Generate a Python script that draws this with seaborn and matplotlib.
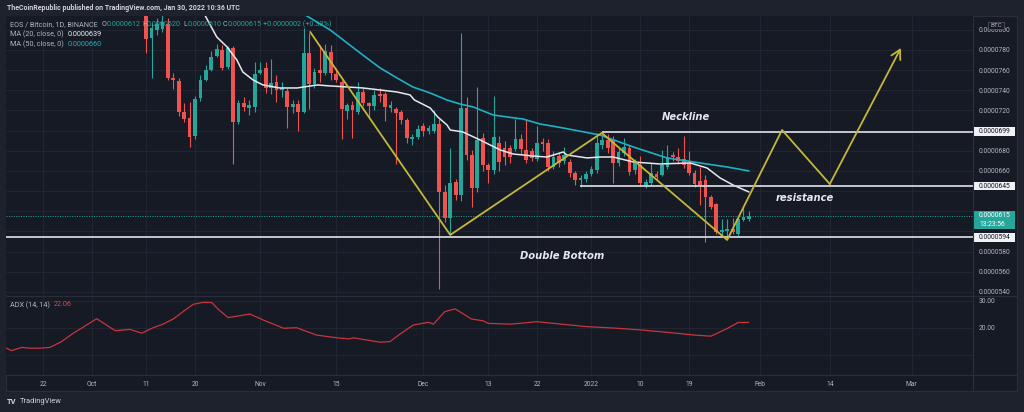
import numpy as np
import pandas as pd
import matplotlib
matplotlib.use("Agg")
import matplotlib.pyplot as plt
import matplotlib.transforms as mtransforms
from matplotlib.patches import Rectangle
from matplotlib.lines import Line2D
import seaborn as sns

# ---------------- data (prices in units of 1e-7 BTC, x in days since 2021-09-22) ----------------
BASE_DATE = "2021-09-22"
FIRST_CANDLE = "2021-10-11"

candle_open = [815, 792, 800, 801, 806, 752, 749, 718, 713, 695, 732, 750, 760, 774, 780, 763,
               782, 709, 727, 722, 723, 757, 762, 742, 748, 740, 739, 723, 726, 718, 777, 746,
               760, 757, 778, 756, 748, 719, 725, 718, 738, 727, 724, 736, 736, 722, 721, 718,
               711, 692, 694, 705, 700, 700, 707, 639, 613, 649, 636, 722, 676, 643, 693, 666,
               661, 688, 683, 683, 682, 692, 681, 680, 672, 689, 688, 664, 675, 670, 669, 658,
               651, 652, 657, 661, 686, 691, 691, 668, 678, 683, 661, 666, 646, 648, 657, 656,
               664, 676, 674, 672, 668, 658, 650, 651, 634, 627, 599, 600, 602, 597, 611, 612]
candle_high = [820, 807, 812, 815, 812, 757, 752, 727, 728, 734, 755, 765, 779, 786, 785, 784,
               784, 730, 733, 730, 768, 768, 768, 771, 755, 748, 742, 730, 730, 802, 797, 762,
               785, 786, 785, 762, 750, 727, 729, 748, 742, 728, 740, 742, 738, 729, 723, 720,
               713, 697, 706, 708, 706, 720, 712, 646, 683, 652, 797, 733, 681, 743, 698, 668,
               734, 695, 690, 686, 712, 697, 711, 683, 705, 693, 692, 680, 678, 684, 672, 660,
               656, 660, 665, 698, 698, 697, 695, 683, 693, 686, 672, 675, 652, 668, 660, 681,
               686, 679, 683, 695, 680, 661, 664, 656, 636, 628, 612, 612, 613, 614, 623, 620]
candle_low = [777, 752, 795, 798, 750, 741, 714, 709, 684, 692, 729, 749, 759, 773, 760, 761,
              667, 707, 719, 715, 718, 756, 737, 736, 728, 733, 703, 717, 700, 717, 721, 742,
              748, 755, 750, 748, 692, 712, 693, 716, 724, 713, 720, 728, 710, 718, 667, 707,
              688, 686, 692, 695, 697, 698, 543, 609, 596, 631, 630, 671, 624, 639, 660, 648,
              657, 660, 666, 668, 680, 677, 668, 670, 670, 680, 660, 662, 664, 667, 654, 646,
              644, 649, 655, 658, 682, 678, 648, 665, 675, 656, 657, 645, 643, 646, 651, 655,
              662, 670, 667, 663, 656, 644, 626, 589, 622, 597, 596, 595, 597, 595, 610, 610]
candle_close = [791, 802, 806, 808, 752, 750, 718, 712, 694, 731, 750, 760, 773, 781, 762, 782,
                709, 727, 723, 725, 756, 760, 742, 747, 740, 742, 723, 726, 718, 777, 746, 758,
                757, 779, 757, 750, 721, 725, 720, 738, 727, 724, 735, 734, 723, 725, 717, 711,
                693, 694, 702, 700, 703, 707, 639, 613, 648, 636, 722, 676, 643, 691, 666, 661,
                694, 669, 674, 674, 692, 682, 671, 673, 688, 687, 664, 674, 668, 676, 658, 651,
                653, 657, 662, 688, 691, 683, 668, 679, 684, 659, 668, 648, 649, 658, 654, 666,
                674, 674, 670, 666, 658, 647, 646, 634, 624, 599, 601, 602, 599, 612, 614, 615]

ma20_day = [29.8, 32.0, 33.9, 35.7, 36.8, 38.7, 40.5, 43.6, 46.8, 50.5, 52.9, 56.0, 58.9, 62.1,
            65.2, 67.6, 68.4, 71.3, 72.7, 74.4, 75.0, 77.3, 80.5, 84.2, 86.6, 90.2, 92.8, 95.8,
            96.5, 100.2, 102.6, 105.0, 108.7, 113.6, 119.2, 122.3, 124.7, 127.1, 130.0]
ma20_value = [814.7, 792.9, 783.0, 770.1, 758.2, 750.2, 745.3, 742.3, 742.3, 745.3, 744.3, 743.3,
              742.3, 740.3, 738.3, 735.4, 730.4, 722.5, 713.5, 705.6, 700.6, 698.7, 690.7, 680.8,
              676.8, 674.8, 673.8, 678.8, 675.8, 672.9, 673.8, 673.8, 668.9, 666.9, 667.9, 662.9,
              653.0, 646.0, 639.1]

ma50_day = [48.3, 52.9, 58.9, 62.1, 65.2, 68.1, 71.3, 74.4, 76.8, 79.2, 82.9, 85.5, 88.4, 91.5,
            95.8, 102.6, 108.7, 114.9, 121.0, 126.0, 130.0]
ma50_value = [814.7, 799.8, 775.0, 762.1, 752.2, 743.3, 737.3, 730.4, 726.4, 723.5, 715.5, 713.5,
              711.5, 706.6, 702.6, 695.6, 683.8, 672.9, 667.9, 663.9, 660.0]

adx_day = [-6.7, -5.8, -3.9, -2.4, -0.6, 1.3, 3.4, 5.6, 7.7, 9.9, 13.3, 16.0, 18.2, 20.3, 22.2,
           24.0, 25.8, 27.7, 29.5, 31.1, 32.3, 34.1, 38.1, 40.6, 44.3, 46.7, 50.4, 54.1, 56.5,
           57.1, 59.6, 62.1, 63.9, 65.7, 68.2, 71.0, 71.9, 74.0, 75.9, 78.9, 81.1, 82.0, 86.0,
           87.8, 91.0, 95.0, 100.0, 105.0, 110.0, 115.0, 120.0, 123.0, 126.0, 128.0, 130.0]
adx_value = [12.6, 11.7, 12.9, 12.6, 12.6, 12.9, 15.0, 18.1, 20.7, 23.4, 19.0, 19.5, 18.1, 20.1,
             21.5, 23.3, 26.0, 28.7, 29.4, 29.3, 26.8, 23.8, 25.1, 22.9, 19.9, 20.1, 17.4, 16.4,
             16.0, 16.4, 15.6, 14.8, 15.0, 17.7, 21.1, 22.1, 21.4, 26.0, 27.0, 23.3, 22.6, 21.7,
             21.4, 21.7, 22.3, 21.5, 20.5, 20.0, 19.3, 18.4, 17.4, 17.0, 19.8, 22.0, 22.06]

zigzag_day = [49.2, 75.0, 102.9, 126.0, 136.1, 144.9]
zigzag_price = [797.9, 596.5, 697.7, 591.5, 700.6, 647.0]
arrow_tip = (158.0, 782.0)

neckline, resistance, support, last_price = 699, 645, 594, 615
neckline_start, resistance_start = 102.9, 98.9

tick_dates = ["2021-09-22", "2021-10-01", "2021-10-11", "2021-10-20", "2021-11-01", "2021-11-15",
              "2021-12-01", "2021-12-13", "2021-12-22", "2022-01-01", "2022-01-10", "2022-01-19",
              "2022-02-01", "2022-02-14", "2022-03-01"]
tick_labels = ["22", "Oct", "11", "20", "Nov", "15", "Dec", "13", "22", "2022", "10", "19",
               "Feb", "14", "Mar"]
price_ticks = list(range(540, 801, 20))
hidden_price_labels = [600, 620, 640, 700]

# ---------------- style ----------------
sns.set_theme(style="dark")
plt.rcParams['font.family'] = ['Roboto', 'DejaVu Sans']

BG = "#161a25"
BAND = "#1e222d"
GRID = "#222632"
BORDER = "#2a2e39"
TXT = "#b2b5be"
UP = "#26a69a"
DOWN = "#ef5350"
MA20C = "#e6e8ee"
MA50C = "#1fb0c6"
YEL = "#c4b73a"
LVL = "#d1d4dc"
FS = 4.9
LFS = 5.2

W, H = 1024, 412
fig = plt.figure(figsize=(W / 100, H / 100), dpi=100, facecolor=BAND)


def fx(px):
    return px / W


def fy(py):
    return 1 - py / H


bgrect = Rectangle((fx(6), fy(391)), fx(1017) - fx(6), fy(16) - fy(391),
                   transform=fig.transFigure, fc=BG, ec=BORDER, lw=0.8, zorder=-10)
fig.patches.append(bgrect)

ax = fig.add_axes([fx(6), fy(295), fx(973) - fx(6), fy(16) - fy(295)], zorder=1)
adx_ax = fig.add_axes([fx(6), fy(375), fx(973) - fx(6), fy(296) - fy(375)], zorder=1)

base = pd.Timestamp(BASE_DATE)
tick_days = [(pd.Timestamp(d) - base).days for d in tick_dates]
xmin, xmax = -6.81, 171.27

for a in (ax, adx_ax):
    a.set_facecolor(BG)
    for s in a.spines.values():
        s.set_visible(False)
    a.set_xlim(xmin, xmax)
    a.set_xticks(tick_days)
    a.grid(True, color=GRID, lw=0.7)
    a.yaxis.tick_right()
    a.tick_params(length=0, colors=TXT, labelsize=FS)

# ---------------- main pane ----------------
ax.set_ylim(536.9, 813.7)
ax.set_yticks(price_ticks)
ax.set_yticklabels(["" if v in hidden_price_labels else f"{v * 1e-7:.7f}" for v in price_ticks])
ax.tick_params(axis='y', pad=4.3)
ax.tick_params(axis='x', labelbottom=False)

o = np.array(candle_open, float)
h = np.array(candle_high, float)
l = np.array(candle_low, float)
c = np.array(candle_close, float)
days = np.arange(len(o)) + (pd.Timestamp(FIRST_CANDLE) - base).days
cols = np.where(c >= o, UP, DOWN)
ax.vlines(days, l, h, colors=cols, lw=0.8, zorder=3)
ax.bar(days, np.maximum(np.abs(c - o), 0.9), bottom=np.minimum(o, c), width=0.7,
       color=cols, linewidth=0, zorder=4)

sns.lineplot(x=ma50_day, y=ma50_value, ax=ax, color=MA50C, lw=1.2, zorder=5)
sns.lineplot(x=ma20_day, y=ma20_value, ax=ax, color=MA20C, lw=1.1, zorder=5)

ax.axhline(last_price, color=UP, lw=0.7, ls=(0, (1, 1.5)), zorder=2)
ax.hlines(support, xmin, xmax, color=LVL, lw=1.3, zorder=6)
ax.hlines(neckline, neckline_start, xmax, color=LVL, lw=1.3, zorder=6)
ax.hlines(resistance, resistance_start, xmax, color=LVL, lw=1.3, zorder=6)

sns.lineplot(x=zigzag_day, y=zigzag_price, ax=ax, sort=False, color=YEL, lw=1.3, zorder=7)
ax.annotate("", xy=arrow_tip, xytext=(zigzag_day[-1], zigzag_price[-1]),
            arrowprops=dict(arrowstyle="->,head_length=0.55,head_width=0.3", color=YEL, lw=1.3,
                            shrinkA=0, shrinkB=0), zorder=7)

ann = dict(color="#e6e8ee", fontsize=7.2, fontstyle='italic', fontweight='bold',
           family='DejaVu Sans', ha='center', va='center', zorder=8)
ax.text(95.6, 575.6, "Double Bottom", **ann)
ax.text(118.4, 713.5, "Neckline", **ann)
ax.text(140.3, 633.2, "resistance", **ann)

# right-axis price labels
blend = mtransforms.blended_transform_factory(ax.transAxes, ax.transData)
bw = 42 / 967
for val in (neckline, resistance, support):
    ax.add_patch(Rectangle((1.0, val - 4.4), bw, 8.8, transform=blend, fc="#f0f1f4", ec='none',
                           clip_on=False, zorder=20))
    ax.text(1.0 + 6 / 967, val, f"{val * 1e-7:.7f}", transform=blend, color="#131722",
            fontsize=FS, va='center', ha='left', zorder=21, clip_on=False)
ax.add_patch(Rectangle((1.0, last_price - 13.0), bw, 17.8, transform=blend, fc=UP, ec='none',
                       clip_on=False, zorder=20))
ax.text(1.0 + 6 / 967, last_price + 0.5, f"{last_price * 1e-7:.7f}", transform=blend,
        color="white", fontsize=FS, va='center', ha='left', zorder=21, clip_on=False)
ax.text(1.0 + 6 / 967, last_price - 8.2, "13:23:56", transform=blend, color="white",
        fontsize=FS, va='center', ha='left', zorder=21, clip_on=False)
ax.add_patch(Rectangle((1.0 + 15 / 967, 801.0), 16 / 967, 7.2, transform=blend, fc=BG,
                       ec="#50535e", lw=0.6, clip_on=False, zorder=20))
ax.text(1.0 + 23 / 967, 804.6, "BTC", transform=blend, color=TXT, fontsize=FS - 0.3,
        ha='center', va='center', zorder=21, clip_on=False)

# ---------------- ADX pane ----------------
adx_ax.set_ylim(2.78, 31.72)
adx_ax.set_yticks([10, 20, 30])
adx_ax.set_yticklabels(["", "20.00", "30.00"])
adx_ax.tick_params(axis='y', pad=4.3)
adx_ax.set_xticklabels(tick_labels)
adx_ax.tick_params(axis='x', pad=4.0)
sns.lineplot(x=adx_day, y=adx_value, ax=adx_ax, color="#c8353e", lw=0.9)

for a in (ax, adx_ax):
    a.set_xlabel("")
    a.set_ylabel("")

# ---------------- frame lines ----------------
for (x0, y0, x1, y1) in [(6, 295.5, 1017, 295.5), (6, 375, 1017, 375), (973, 16, 973, 391)]:
    fig.add_artist(Line2D([fx(x0), fx(x1)], [fy(y0), fy(y1)], transform=fig.transFigure,
                          color=BORDER, lw=0.8, zorder=5))


# ---------------- texts ----------------
def ftext(px, py, s, color=TXT, size=LFS, **kw):
    fig.text(fx(px), fy(py), s, color=color, fontsize=size, va='center', ha='left', zorder=6, **kw)


ftext(7, 8.3, "TheCoinRepublic published on TradingView.com, Jan 30, 2022 10:36 UTC",
      color="#d1d4dc", weight='bold', size=5.0)
ftext(10, 24.5, "EOS / Bitcoin, 1D, BINANCE")
for px, letter, val in [(102, "O", "0.0000612"), (142, "H", "0.0000620"), (183, "L", "0.0000610"),
                        (223, "C", "0.0000615")]:
    ftext(px, 24.5, letter)
    ftext(px + 4.4, 24.5, val, color=UP)
ftext(263, 24.5, "+0.0000002 (+0.33%)", color=UP)
ftext(10, 34.5, "MA (20, close, 0)")
ftext(68, 34.5, "0.0000639", color="#f0f1f4")
ftext(10, 44.5, "MA (50, close, 0)")
ftext(68, 44.5, "0.0000660", color=MA50C)
ftext(10, 305, "ADX (14, 14)")
ftext(54, 305, "22.06", color="#e04848")
ftext(6.5, 401.5, "TV", color="#d1d4dc", size=5.4, weight='bold')
ftext(20, 401.5, "TradingView", color="#d1d4dc", size=5.4)

fig.savefig("out.png", dpi=100, facecolor=fig.get_facecolor())
